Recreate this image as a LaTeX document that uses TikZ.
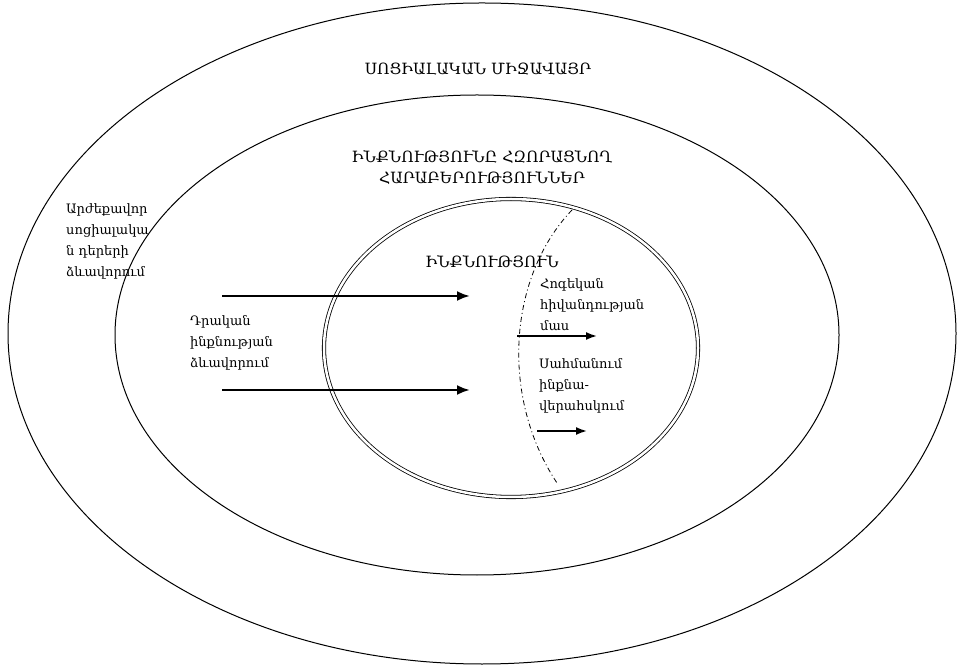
\documentclass[tikz,border=0pt]{standalone}
\usepackage{fontspec}
\setmainfont{DejaVu Serif}
\usetikzlibrary{arrows.meta}
\tikzset{
  ring/.style={draw, line width=1pt},
  txt/.style={anchor=north west, align=left, inner sep=0pt, font=\fontsize{13}{21}\selectfont},
  head/.style={align=center, inner sep=0pt, font=\fontsize{15.5}{21}\selectfont},
  bigarrow/.style={-{Latex[length=13pt,width=10pt]}, line width=2.5pt},
  smallarrow/.style={-{Latex[length=11pt,width=8pt]}, line width=1.8pt}
}
\begin{document}
\begin{tikzpicture}[x=1pt, y=1pt]
        \useasboundingbox (0,0) rectangle (961,667);
        \draw[ring] (482,333.5) ellipse [x radius=474, y radius=330.5];
        \draw[ring] (477,332) ellipse [x radius=362, y radius=240];
        \draw[line width=0.8pt, double, double distance=2.5pt] (511,319) ellipse [x radius=187, y radius=149];
        \draw[line width=0.8pt, dash pattern=on 5pt off 3pt on 1pt off 3pt] (572,457) .. controls (508,390) and (500,270) .. (557,184);
        \node[head] (social) at (478,598) {ՍՈՑԻԱԼԱԿԱՆ ՄԻՋԱՎԱՅՐ};
        \node[head] (bonds) at (482,499) {ԻՆՔՆՈՒԹՅՈՒՆԸ ՀԶՈՐԱՑՆՈՂ\\ՀԱՐԱԲԵՐՈՒԹՅՈՒՆՆԵՐ};
        \node[head] (self) at (492,405) {ԻՆՔՆՈՒԹՅՈՒՆ};
        \node[txt] (values) at (66,464) {Արժեքավոր\\սոցիալակա\\ն դերերի\\ձևավորում};
        \node[txt] (positive) at (190,352) {Դրական\\ինքնության\\ձևավորում};
        \node[txt] (illness) at (540,389) {Հոգեկան\\հիվանդության\\մաս};
        \node[txt] (limits) at (539,309) {Սահմանում\\ինքնա-\\վերահսկում};
        % arrows
        \coordinate (a1) at (222,371);
        \coordinate (b1) at (470,371);
        \coordinate (a2) at (222,277);
        \coordinate (b2) at (470,277);
        \coordinate (a3) at (517,331);
        \coordinate (b3) at (597,331);
        \coordinate (a4) at (537,236);
        \coordinate (b4) at (587,236);
        \draw[bigarrow] (a1) -- (b1);
        \draw[bigarrow] (a2) -- (b2);
        \draw[smallarrow] (a3) -- (b3);
        \draw[smallarrow] (a4) -- (b4);
\end{tikzpicture}
\end{document}
